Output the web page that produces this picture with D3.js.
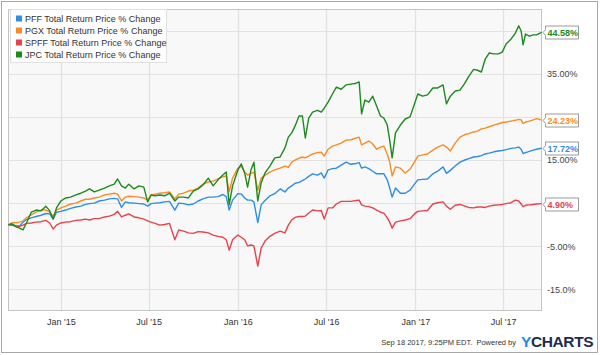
<!DOCTYPE html>
<html><head><meta charset="utf-8">
<script src="https://cdn.jsdelivr.net/npm/d3@7"></script>
<style>
body{margin:0;background:#fff;}
svg{display:block;font-family:"Liberation Sans",Arial,Helvetica,sans-serif;}
</style>
</head><body><svg id="c" width="600" height="355"></svg>
<script>
const dates = ["2014-09-15","2014-09-22","2014-10-01","2014-10-08","2014-10-15","2014-10-22","2014-11-01","2014-11-11","2014-11-21","2014-12-01",
"2014-12-09","2014-12-16","2014-12-23","2015-01-01","2015-01-11","2015-01-21","2015-02-01","2015-02-11","2015-02-21","2015-03-01",
"2015-03-11","2015-03-21","2015-04-01","2015-04-11","2015-04-21","2015-04-28","2015-05-06","2015-05-14","2015-05-21","2015-06-01",
"2015-06-11","2015-06-21","2015-06-29","2015-07-06","2015-07-14","2015-07-24","2015-08-03","2015-08-13","2015-08-24","2015-09-01",
"2015-09-11","2015-09-21","2015-10-01","2015-10-11","2015-10-21","2015-11-01","2015-11-11","2015-11-21","2015-12-01","2015-12-08",
"2015-12-14","2015-12-21","2016-01-01","2016-01-08","2016-01-15","2016-01-21","2016-01-28","2016-02-03","2016-02-11","2016-02-18",
"2016-02-26","2016-03-07","2016-03-17","2016-03-28","2016-04-07","2016-04-14","2016-04-21","2016-04-28","2016-05-06","2016-05-13",
"2016-05-19","2016-05-26","2016-06-03","2016-06-13","2016-06-21","2016-06-27","2016-07-05","2016-07-14","2016-07-22","2016-08-01",
"2016-08-11","2016-08-21","2016-09-01","2016-09-07","2016-09-12","2016-09-19","2016-09-27","2016-10-05","2016-10-13","2016-10-21",
"2016-10-28","2016-11-04","2016-11-09","2016-11-14","2016-11-21","2016-12-01","2016-12-11","2016-12-21","2016-12-30","2017-01-06",
"2017-01-16","2017-01-26","2017-02-06","2017-02-16","2017-02-27","2017-03-06","2017-03-14","2017-03-24","2017-04-03","2017-04-13",
"2017-04-21","2017-05-01","2017-05-09","2017-05-17","2017-05-25","2017-06-02","2017-06-12","2017-06-21","2017-06-29","2017-07-07",
"2017-07-17","2017-07-26","2017-08-02","2017-08-07","2017-08-11","2017-08-16","2017-08-24","2017-09-01","2017-09-08","2017-09-18"];

const pff = [0,0.05,-0.3,-0.3,0.6,1.2,1.6,1.9,2.2,2.6,
2.5,1.3,2.9,3.1,3.4,3.8,4.1,4.3,4.7,4.9,
5.0,5.5,5.7,6.0,6.1,6.0,4.0,5.3,5.1,5.0,
4.9,4.8,4.3,4.9,5.0,5.1,5.3,5.4,3.4,5.0,
4.9,4.6,4.8,5.5,6.0,6.4,6.4,6.5,7.0,6.5,
3.4,5.7,7.2,7.1,6.2,5.7,5.7,5.3,0.5,4.6,
5.6,6.7,7.2,8.3,7.6,8.5,9.0,9.6,9.8,10.2,
10.6,11.2,11.8,11.5,12.0,10.8,12.7,13.0,13.1,13.8,
14.5,14.0,14.2,14.4,13.1,13.4,13.0,12.4,11.8,11.8,
11.8,10.4,8.5,6.4,8.5,7.3,7.3,8.0,9.4,10.4,
10.5,10.6,11.8,12.4,13.4,11.9,12.6,13.6,14.5,15.0,
15.3,15.7,15.8,16.0,16.4,16.6,16.9,17.1,17.2,17.4,
17.7,17.8,18.0,17.5,16.5,16.7,17.0,17.3,17.5,17.72];

const pgx = [0,0.4,0.5,0.6,0.9,1.6,2.3,2.9,3.4,3.4,
2.9,2.0,3.4,3.9,4.3,4.8,5.0,5.5,5.9,5.9,
6.2,6.4,6.9,7.1,7.3,7.1,5.5,6.4,6.6,6.5,
6.4,6.2,5.7,6.9,7.1,7.3,7.4,7.6,6.0,7.1,
7.3,7.8,8.0,8.5,9.4,9.9,10.1,10.6,11.1,11.3,
7.6,10.8,13.1,13.5,12.2,11.5,11.9,12.2,8.0,10.8,
11.5,12.2,12.7,13.1,13.6,13.3,14.5,15.0,15.4,15.7,
15.5,15.9,16.4,16.7,16.8,15.9,17.5,18.2,18.5,18.9,
19.6,19.7,20.1,20.3,18.5,18.9,19.4,18.7,17.5,18.0,
18.2,16.4,14.5,11.3,13.4,13.1,12.0,12.9,14.5,15.9,
16.2,16.4,17.3,18.0,18.5,18.0,17.1,18.9,20.3,20.9,
21.1,21.5,21.7,22.2,22.4,22.7,23.1,23.4,23.7,23.8,
24.0,24.2,24.4,24.3,23.5,23.8,24.0,24.3,24.6,24.23];

const spff = [0,-0.1,-0.4,-0.4,-0.1,0.3,0.4,0.6,0.7,1.0,
0.4,-1.0,-0.1,0.4,0.6,0.7,1.0,1.1,1.3,1.1,
1.4,1.4,1.8,2.0,2.4,3.1,1.8,2.2,2.5,1.8,
1.6,1.3,0.9,0.6,0.3,-0.1,0.05,0.3,-3.5,-1.2,
-1.5,-1.9,-2.0,-1.6,-1.7,-1.9,-2.4,-2.7,-2.9,-3.5,
-5.9,-3.5,-2.4,-2.9,-3.5,-4.9,-4.7,-4.9,-9.6,-5.4,
-3.8,-2.7,-2.0,-1.5,-1.9,-0.1,1.1,1.7,1.9,1.9,
2.0,2.7,3.4,3.2,3.3,1.3,3.9,3.9,4.8,5.4,
5.4,5.4,5.6,5.7,4.6,4.3,4.2,3.9,3.4,2.9,
2.7,1.6,0.6,-0.8,0.6,0.9,1.1,1.4,2.5,3.1,
3.2,3.3,4.8,5.1,5.3,4.3,3.6,4.5,4.7,4.3,
4.0,3.9,4.1,4.1,4.0,4.3,4.5,4.6,4.7,4.9,
5.1,5.7,5.5,4.8,4.2,4.5,4.6,4.7,4.8,4.90];

const jpc = [0,0.2,-0.5,-0.8,-1.2,0.4,2.9,3.4,3.2,4.3,
3.2,1.3,3.9,5.5,6.2,6.4,6.9,7.3,7.8,8.3,
7.6,8.0,8.5,9.0,9.4,10.6,9.0,8.5,9.4,8.3,
9.0,8.7,5.3,6.9,6.7,6.9,6.7,7.3,5.5,6.4,
6.4,6.2,7.8,8.3,9.2,10.8,9.0,10.4,11.5,12.2,
4.6,9.0,12.7,14.1,12.0,8.7,12.7,14.5,5.5,9.7,
12.0,13.6,15.5,15.7,17.8,20.3,21.3,22.9,25.2,25.2,
20.1,24.7,26.1,26.5,26.1,27.0,28.4,30.3,31.9,31.4,
32.4,32.6,32.8,33.1,25.7,28.9,28.4,29.8,27.5,25.2,
24.7,23.1,19.6,15.5,21.3,23.1,24.5,25.0,28.0,30.3,
29.8,30.1,31.7,31.7,32.4,28.0,29.8,31.0,31.2,32.8,
34.4,36.0,35.8,35.4,38.4,39.8,39.6,39.6,40.0,41.9,
43.0,44.4,46.1,44.9,41.7,44.2,43.7,44.0,44.0,44.58];

const seriesNames = ["PFF Total Return Price % Change","PGX Total Return Price % Change","SPFF Total Return Price % Change","JPC Total Return Price % Change"];
const seriesColors = ["#2e8ee6","#f98c24","#e6434c","#1d8a1d"];
const lastLabels = ["17.72%","24.23%","4.90%","44.58%"];
const yTicks = [-15,-5,5,15,25,35,45];
const yTickLabels = ["-15.0%","-5.00%","","15.00%","","35.00%",""];
const xTicks = ["2015-01-01","2015-07-01","2016-01-01","2016-07-01","2017-01-01","2017-07-01"];
const xTickLabels = ["Jan '15","Jul '15","Jan '16","Jul '16","Jan '17","Jul '17"];
const footerText = "Sep 18 2017, 9:25PM EDT.  Powered by";

const parse = d3.timeParse("%Y-%m-%d");
const dts = dates.map(parse);
const allSeries = [pff, pgx, spff, jpc];

const svg = d3.select("#c");
const L = 8, R = 542, T = 9, B = 311;
const x = d3.scaleTime().domain([parse("2014-09-14"), parse("2017-09-19")]).range([L, R]);
const y = d3.scaleLinear().domain([-20, 50]).range([B, T]);

// outer frame
svg.append("rect").attr("x",1.5).attr("y",1.5).attr("width",596).attr("height",351)
  .attr("fill","#fff").attr("stroke","#a8a8a8").attr("stroke-width",1);

// plot background
svg.append("rect").attr("x",L+0.5).attr("y",T+0.5).attr("width",R-L-1).attr("height",B-T-1)
  .attr("fill","#f8f8f8").attr("stroke","#c4c4c4");

// grid
const grid = svg.append("g");
yTicks.forEach(v => {
  const yy = Math.round(y(v)) + 0.5;
  grid.append("line").attr("x1",L+1).attr("x2",R-1).attr("y1",yy).attr("y2",yy)
    .attr("stroke","#e2e2e2").attr("stroke-width",1.2);
});
xTicks.forEach(s => {
  const xx = Math.round(x(parse(s))) + 0.5;
  grid.append("line").attr("x1",xx).attr("x2",xx).attr("y1",T+1).attr("y2",B-1)
    .attr("stroke","#e2e2e2").attr("stroke-width",1.2);
});

// x axis labels via d3 axis
const xAxis = d3.axisBottom(x).tickValues(xTicks.map(parse))
  .tickFormat((d,i) => xTickLabels[i]).tickSize(0).tickPadding(8);
const gx = svg.append("g").attr("transform",`translate(0,${B})`).call(xAxis);
gx.select(".domain").remove();
gx.selectAll("text").attr("font-size",9).attr("fill","#333")
  .attr("font-family","'Liberation Sans',Arial,sans-serif");

// y axis labels (right)
const yAxis = d3.axisRight(y).tickValues(yTicks)
  .tickFormat((d,i) => yTickLabels[i]).tickSize(0).tickPadding(5);
const gy = svg.append("g").attr("transform",`translate(${R},0)`).call(yAxis);
gy.select(".domain").remove();
gy.selectAll("text").attr("font-size",9).attr("fill","#444")
  .attr("font-family","'Liberation Sans',Arial,sans-serif");

// lines
const line = d3.line().x((d,i) => x(dts[i])).y(d => y(d)).curve(d3.curveLinear);
allSeries.forEach((s, k) => {
  svg.append("path").datum(s).attr("d", line).attr("fill","none")
    .attr("stroke", seriesColors[k]).attr("stroke-width",1.4).attr("stroke-linejoin","round");
});

// value flags
allSeries.forEach((s, k) => {
  const yy = Math.round(y(s[s.length-1])) + 0.5;
  const x0 = R + 1, bx = R + 3.5, w = 33, h = 13;
  svg.append("path")
    .attr("d", `M${x0},${yy} L${bx},${yy-3} L${bx},${yy-h/2} L${bx+w},${yy-h/2} L${bx+w},${yy+h/2} L${bx},${yy+h/2} L${bx},${yy+3} Z`)
    .attr("fill","#fff").attr("stroke","#9a9a9a").attr("stroke-width",1);
  svg.append("text").attr("x", bx+2).attr("y", yy+3.5).text(lastLabels[k])
    .attr("font-size",9).attr("font-weight","bold").attr("fill",seriesColors[k]);
});

// legend
const lg = svg.append("g");
lg.append("rect").attr("x",10.5).attr("y",9.5).attr("width",156).attr("height",53)
  .attr("fill","#fff").attr("fill-opacity",0.85).attr("stroke","#e0e0e0");
seriesNames.forEach((n, k) => {
  const cy = 18.5 + k*12;
  lg.append("rect").attr("x",16).attr("y",cy-3).attr("width",6).attr("height",6).attr("fill",seriesColors[k]);
  lg.append("text").attr("x",25).attr("y",cy+3.2).text(n).attr("font-size",9).attr("fill","#333");
});

// footer
svg.append("text").attr("x",516).attr("y",345).attr("text-anchor","end")
  .attr("font-size",7.5).attr("fill","#333").attr("xml:space","preserve").text(footerText);
const yc = svg.append("text").attr("x",521).attr("y",347).attr("font-size",15.5).attr("font-weight","bold")
  .attr("letter-spacing",-0.4);
yc.append("tspan").attr("fill","#1b8fe6").text("Y");
yc.append("tspan").attr("fill","#1d2b4f").text("CHARTS");
</script>
</body></html>
